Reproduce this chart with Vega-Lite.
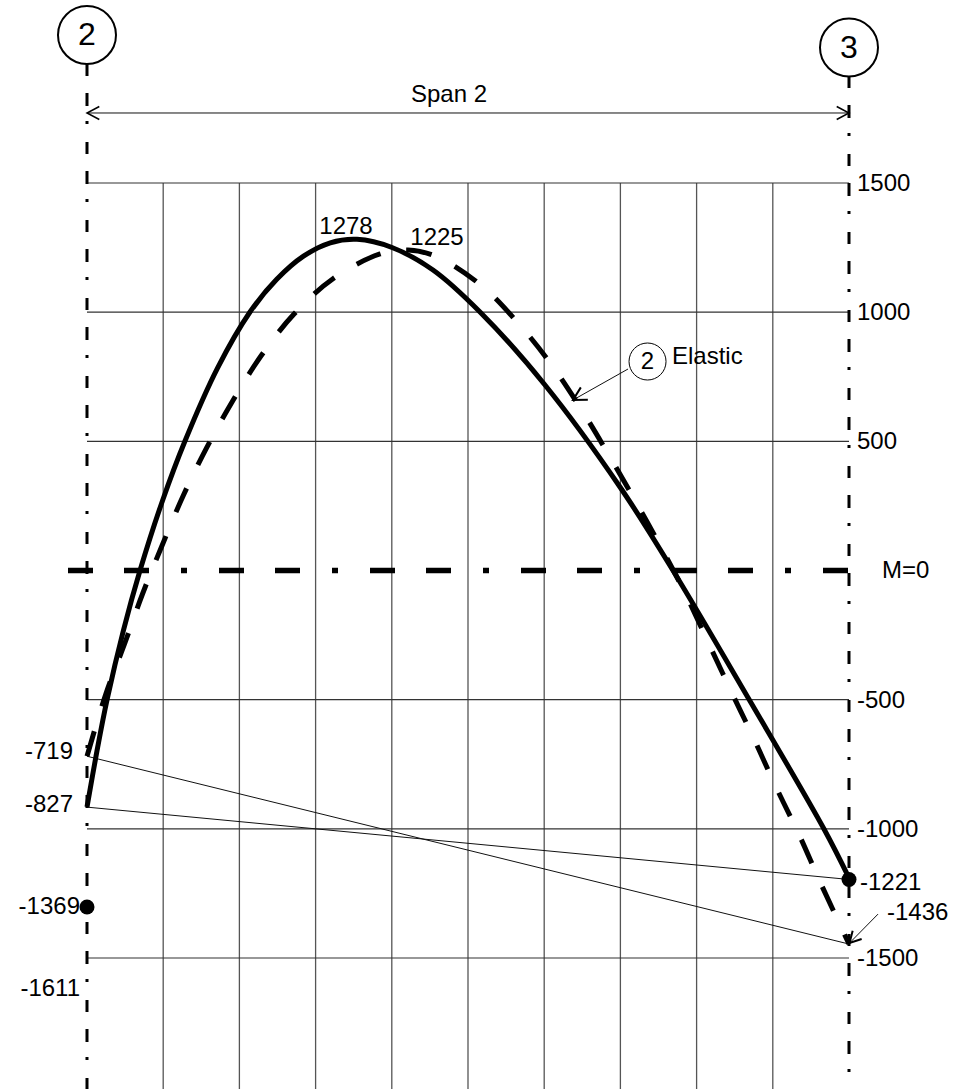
{
  "$schema": "https://vega.github.io/schema/vega-lite/v6.json",
  "width": 955,
  "height": 1089,
  "padding": 0,
  "autosize": {"type": "none"},
  "background": "white",
  "config": {"view": {"stroke": null}, "text": {"font": "Liberation Sans", "fontSize": 24, "color": "black"}},
  "encoding": {
    "x": {"field": "u", "type": "quantitative", "scale": {"domain": [-1.14173, 11.39108], "nice": false, "zero": false}, "axis": null},
    "y": {"field": "M", "type": "quantitative", "scale": {"domain": [-2007.1, 2208.4], "nice": false, "zero": false}, "axis": null}
  },
  "layer": [
    {
      "data": {"values": [
        {"u": 1, "M": 1500, "M2": -2100}, {"u": 2, "M": 1500, "M2": -2100}, {"u": 3, "M": 1500, "M2": -2100},
        {"u": 4, "M": 1500, "M2": -2100}, {"u": 5, "M": 1500, "M2": -2100}, {"u": 6, "M": 1500, "M2": -2100},
        {"u": 7, "M": 1500, "M2": -2100}, {"u": 8, "M": 1500, "M2": -2100}, {"u": 9, "M": 1500, "M2": -2100}
      ]},
      "mark": {"type": "rule", "color": "#555555", "strokeWidth": 1.3},
      "encoding": {"y2": {"field": "M2"}}
    },
    {
      "data": {"values": [
        {"u": 0, "u2": 10, "M": 1500}, {"u": 0, "u2": 10, "M": 1000}, {"u": 0, "u2": 10, "M": 500},
        {"u": 0, "u2": 10, "M": -500}, {"u": 0, "u2": 10, "M": -1000}, {"u": 0, "u2": 10, "M": -1500}
      ]},
      "mark": {"type": "rule", "color": "#333333", "strokeWidth": 1.1},
      "encoding": {"x2": {"field": "u2"}}
    },
    {
      "data": {"values": [
        {"u": 0, "M": -719, "u2": 10, "M2": -1446},
        {"u": 0, "M": -916, "u2": 10, "M2": -1196},
        {"u": 0, "M": 1771, "u2": 10, "M2": 1771},
        {"u": 7.1, "M": 780, "u2": 6.378, "M2": 660},
        {"u": 10.381, "M": -1330, "u2": 10.007, "M2": -1442}
      ]},
      "mark": {"type": "rule", "color": "#111111", "strokeWidth": 1},
      "encoding": {"x2": {"field": "u2"}, "y2": {"field": "M2"}}
    },
    {
      "data": {"values": [
        {"u": 0, "M": 1961, "M2": -2100},
        {"u": 10, "M": 1914, "M2": -2100}
      ]},
      "mark": {"type": "rule", "color": "black", "strokeWidth": 3, "strokeDash": [12, 17, 13, 15, 3, 18], "strokeCap": "butt"},
      "encoding": {"y2": {"field": "M2"}}
    },
    {
      "data": {"values": [{"u": -0.2493, "u2": 9.987, "M": 0}]},
      "mark": {"type": "rule", "color": "black", "strokeWidth": 5.5, "strokeDash": [25, 31, 25, 32, 6, 32], "strokeCap": "butt"},
      "encoding": {"x2": {"field": "u2"}}
    },
    {
      "data": {"values": [
        {"u": 0, "M": -915.5}, {"u": 0.1312, "M": -697.9}, {"u": 0.2625, "M": -501.3}, {"u": 0.479, "M": -230.7},
        {"u": 0.6955, "M": 0}, {"u": 0.9908, "M": 270.2}, {"u": 1.2861, "M": 501.3}, {"u": 1.7126, "M": 783.5},
        {"u": 2.1391, "M": 1000.7}, {"u": 2.4902, "M": 1127.2}, {"u": 2.8412, "M": 1216.7}, {"u": 3.1923, "M": 1268.5},
        {"u": 3.5433, "M": 1282}, {"u": 4.0026, "M": 1250.3}, {"u": 4.5407, "M": 1163.2}, {"u": 5.1575, "M": 1000.7},
        {"u": 6.0105, "M": 718.1}, {"u": 6.9948, "M": 323.2}, {"u": 7.6903, "M": 0}, {"u": 8.7008, "M": -505.2},
        {"u": 9.6719, "M": -1000.7}, {"u": 10, "M": -1190}
      ]},
      "mark": {"type": "line", "color": "black", "strokeWidth": 5, "interpolate": "catmull-rom"}
    },
    {
      "data": {"values": [
        {"u": 0, "M": -719}, {"u": 0.2493, "M": -476.1}, {"u": 0.4948, "M": -282.6},
        {"u": 0.7283, "M": -91.0}, {"u": 0.9908, "M": 100.6}, {"u": 1.2638, "M": 290.3}, {"u": 1.5709, "M": 475.4},
        {"u": 1.9094, "M": 655.0}, {"u": 2.2874, "M": 832.3}, {"u": 2.7139, "M": 991.7}, {"u": 3.2283, "M": 1129.6},
        {"u": 3.8451, "M": 1225.2}, {"u": 4.2126, "M": 1240.7}, {"u": 4.5892, "M": 1214.7}, {"u": 5.1798, "M": 1102.1},
        {"u": 5.6601, "M": 956.9}, {"u": 6.0984, "M": 795.5}, {"u": 6.4921, "M": 621.3}, {"u": 6.8438, "M": 449.0},
        {"u": 7.1916, "M": 271.0}, {"u": 7.5459, "M": 83.2}, {"u": 7.8478, "M": -87.1}, {"u": 8.1562, "M": -280.6},
        {"u": 8.4514, "M": -466.5}, {"u": 8.7533, "M": -652.3}, {"u": 9.042, "M": -838.1}, {"u": 9.3438, "M": -1021.9},
        {"u": 9.6325, "M": -1213.6}, {"u": 10, "M": -1445.8}
      ]},
      "mark": {"type": "line", "color": "black", "strokeWidth": 5, "interpolate": "catmull-rom", "strokeDash": [26, 26], "strokeCap": "butt"}
    },
    {
      "data": {"values": [{"u": 10, "M": -1196}, {"u": 0, "M": -1302.6}]},
      "mark": {"type": "point", "shape": "circle", "filled": true, "color": "black", "opacity": 1, "size": 225}
    },
    {
      "data": {"values": [{"u": 0, "M": 2072.9}, {"u": 10, "M": 2024.5}]},
      "mark": {"type": "point", "shape": "circle", "filled": false, "color": "black", "opacity": 1, "size": 3364, "strokeWidth": 2}
    },
    {
      "data": {"values": [{"u": 7.356, "M": 809}]},
      "mark": {"type": "point", "shape": "circle", "filled": false, "color": "black", "opacity": 1, "size": 1369, "strokeWidth": 1}
    },
    {
      "data": {"values": [{"u": 0, "M": 1771}]},
      "mark": {"type": "point", "shape": "M -1 -0.53 L 0 0 L -1 0.53", "filled": false, "color": "black", "opacity": 1, "size": 605, "strokeWidth": 1.5, "angle": 180}
    },
    {
      "data": {"values": [{"u": 10, "M": 1771}]},
      "mark": {"type": "point", "shape": "M -1 -0.53 L 0 0 L -1 0.53", "filled": false, "color": "black", "opacity": 1, "size": 605, "strokeWidth": 1.5, "angle": 0}
    },
    {
      "data": {"values": [{"u": 6.378, "M": 660}]},
      "mark": {"type": "point", "shape": "M -1 -0.55 L 0 0 L -1 0.55", "filled": false, "color": "black", "opacity": 1, "size": 676, "strokeWidth": 2, "angle": 150.6}
    },
    {
      "data": {"values": [{"u": 10.007, "M": -1442}]},
      "mark": {"type": "point", "shape": "M -1 -0.55 L 0 0 L -1 0.55", "filled": false, "color": "black", "opacity": 1, "size": 500, "strokeWidth": 2, "angle": 133}
    },
    {
      "data": {"values": [
        {"u": 10, "M": 1500, "t": "1500"}, {"u": 10, "M": 1000, "t": "1000"}, {"u": 10, "M": 500, "t": "500"},
        {"u": 10, "M": -500, "t": "-500"}, {"u": 10, "M": -1000, "t": "-1000"}, {"u": 10, "M": -1500, "t": "-1500"}
      ]},
      "mark": {"type": "text", "align": "left", "baseline": "middle", "dx": 8, "dy": 1},
      "encoding": {"text": {"field": "t"}}
    },
    {
      "data": {"values": [{"u": 10, "M": -1211, "t": "-1221"}]},
      "mark": {"type": "text", "align": "left", "baseline": "middle", "dx": 11},
      "encoding": {"text": {"field": "t"}}
    },
    {
      "data": {"values": [{"u": 10, "M": -1326, "t": "-1436"}]},
      "mark": {"type": "text", "align": "left", "baseline": "middle", "dx": 38},
      "encoding": {"text": {"field": "t"}}
    },
    {
      "data": {"values": [{"u": 10, "M": 0, "t": "M=0"}]},
      "mark": {"type": "text", "align": "left", "baseline": "middle", "dx": 33},
      "encoding": {"text": {"field": "t"}}
    },
    {
      "data": {"values": [{"u": 0, "M": -701, "t": "-719"}, {"u": 0, "M": -908, "t": "-827"}]},
      "mark": {"type": "text", "align": "right", "baseline": "middle", "dx": -14},
      "encoding": {"text": {"field": "t"}}
    },
    {
      "data": {"values": [{"u": 0, "M": -1303, "t": "-1369"}, {"u": 0, "M": -1620, "t": "-1611"}]},
      "mark": {"type": "text", "align": "right", "baseline": "middle", "dx": -7},
      "encoding": {"text": {"field": "t"}}
    },
    {
      "data": {"values": [
        {"u": 3.399, "M": 1330, "t": "1278"}, {"u": 4.593, "M": 1289, "t": "1225"},
        {"u": 4.751, "M": 1841, "t": "Span 2"}, {"u": 7.356, "M": 809, "t": "2"}
      ]},
      "mark": {"type": "text", "align": "center", "baseline": "middle"},
      "encoding": {"text": {"field": "t"}}
    },
    {
      "data": {"values": [{"u": 7.677, "M": 826, "t": "Elastic"}]},
      "mark": {"type": "text", "align": "left", "baseline": "middle"},
      "encoding": {"text": {"field": "t"}}
    },
    {
      "data": {"values": [{"u": 0, "M": 2072.9, "t": "2"}, {"u": 10, "M": 2024.5, "t": "3"}]},
      "mark": {"type": "text", "align": "center", "baseline": "middle", "fontSize": 32},
      "encoding": {"text": {"field": "t"}}
    }
  ]
}
